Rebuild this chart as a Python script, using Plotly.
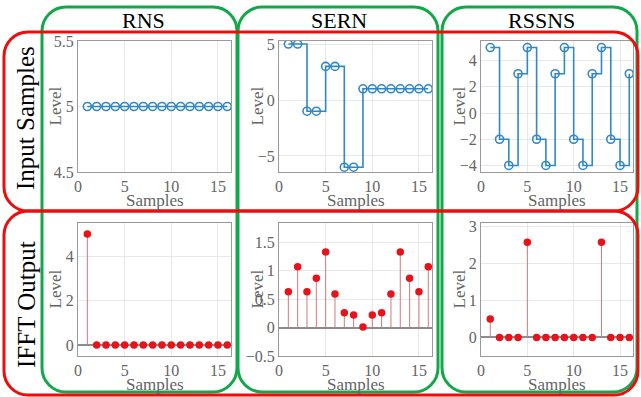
import plotly.graph_objects as go

W, H = 641, 397

samples = [1, 2, 3, 4, 5, 6, 7, 8, 9, 10, 11, 12, 13, 14, 15, 16]

rns_in = [5, 5, 5, 5, 5, 5, 5, 5, 5, 5, 5, 5, 5, 5, 5, 5]
sern_in = [5, 5, -1, -1, 3, 3, -6, -6, 1, 1, 1, 1, 1, 1, 1, 1]
rssns_in = [5, -2, -4, 3, 5, -2, -4, 3, 5, -2, -4, 3, 5, -2, -4, 3]

rns_out = [5, 0, 0, 0, 0, 0, 0, 0, 0, 0, 0, 0, 0, 0, 0, 0]
sern_out = [0.63, 1.07, 0.63, 0.87, 1.33, 0.59, 0.26, 0.22, 0.01, 0.22, 0.26, 0.59, 1.33, 0.87, 0.63, 1.07]
rssns_out = [0.5, 0, 0, 0, 2.57, 0, 0, 0, 0, 0, 0, 0, 2.57, 0, 0, 0]

col_titles = ["RNS", "SERN", "RSSNS"]
row_titles = ["Input Samples", "IFFT Output"]
x_ticks = [0, 5, 10, 15]
y_ticks = [
    [4.5, 5, 5.5], [-5, 0, 5], [-4, -2, 0, 2, 4],
    [0, 2, 4], [-0.5, 0, 0.5, 1, 1.5], [0, 1, 2, 3],
]
y_ranges = [
    [4.5, 5.5], [-6.43, 5.27], [-4.5, 5.5],
    [-0.5, 5.5], [-0.5, 1.84], [-0.5, 3.09],
]
x_range = [0, 16.4]

FONT = "Liberation Serif, Times New Roman, serif"
BLUE = "#3088c6"
RED = "#e8121a"
STEM = "#cf7a7a"
GRAY_TXT = "#646464"
AXIS = "#9a9a9a"
GRID = "#e8e8e8"

# pixel layout of plot areas
cols_px = [(78, 231), (279, 432), (481, 633)]
rows_px = [(41, 172), (223, 356)]

def px(x):
    return x / W

def py(y):
    return 1 - y / H

fig = go.Figure()

inputs = [rns_in, sern_in, rssns_in]
outputs = [rns_out, sern_out, rssns_out]

idx = 0
for r in range(2):
    for c in range(3):
        idx += 1
        xa = "x" if idx == 1 else f"x{idx}"
        ya = "y" if idx == 1 else f"y{idx}"
        if r == 0:
            data = inputs[c]
            fig.add_trace(go.Scatter(
                x=samples, y=data, xaxis=xa, yaxis=ya, mode="lines+markers",
                line=dict(color=BLUE, width=1.6, shape="hv" if c > 0 else "linear"),
                marker=dict(symbol="circle-open", size=8, color=BLUE, line=dict(width=1.6)),
                showlegend=False, hoverinfo="skip"))
        else:
            data = outputs[c]
            sx, sy = [], []
            for xv, yv in zip(samples, data):
                sx += [xv, xv, None]
                sy += [0, yv, None]
            fig.add_trace(go.Scatter(
                x=sx, y=sy, xaxis=xa, yaxis=ya, mode="lines",
                line=dict(color=STEM, width=1), showlegend=False, hoverinfo="skip"))
            fig.add_trace(go.Scatter(
                x=samples, y=data, xaxis=xa, yaxis=ya, mode="markers",
                marker=dict(symbol="circle", size=7.5, color=RED),
                showlegend=False, hoverinfo="skip"))
        x0, x1 = cols_px[c]
        y0, y1 = rows_px[r]
        axkey = "xaxis" if idx == 1 else f"xaxis{idx}"
        aykey = "yaxis" if idx == 1 else f"yaxis{idx}"
        fig.update_layout(**{
            axkey: dict(domain=[px(x0), px(x1)], anchor=ya, range=x_range, automargin=False,
                        tickvals=x_ticks, showgrid=True, gridcolor=GRID, gridwidth=1,
                        zeroline=False, showline=True, linecolor=AXIS, linewidth=1,
                        mirror=True, ticks="", tickfont=dict(family=FONT, size=16, color=GRAY_TXT)),
            aykey: dict(domain=[py(y1), py(y0)], anchor=xa, range=y_ranges[idx - 1], automargin=False,
                        tickvals=y_ticks[idx - 1], showgrid=True, gridcolor=GRID, gridwidth=1,
                        zeroline=(r == 1), zerolinecolor="#8c8c8c", zerolinewidth=1.5,
                        showline=True, linecolor=AXIS, linewidth=1,
                        mirror=True, ticks="", tickfont=dict(family=FONT, size=16, color=GRAY_TXT)),
        })

annotations = []
# axis titles
level_x = [55, 257, 459]
samples_y = [200, 384]
for r in range(2):
    for c in range(3):
        x0, x1 = cols_px[c]
        y0, y1 = rows_px[r]
        annotations.append(dict(text="Samples", x=px((x0 + x1) / 2), y=py(samples_y[r]),
                                xref="paper", yref="paper", showarrow=False,
                                xanchor="center", yanchor="middle",
                                font=dict(family=FONT, size=17, color=GRAY_TXT)))
        annotations.append(dict(text="Level", x=px(level_x[c]), y=py((y0 + y1) / 2),
                                xref="paper", yref="paper", showarrow=False, textangle=-90,
                                xanchor="center", yanchor="middle",
                                font=dict(family=FONT, size=17, color=GRAY_TXT)))
title_x = [143, 339, 541]
for c in range(3):
    annotations.append(dict(text=col_titles[c], x=px(title_x[c]), y=py(21),
                            xref="paper", yref="paper", showarrow=False,
                            xanchor="center", yanchor="middle",
                            font=dict(family=FONT, size=22, color="black")))
row_title_y = [118, 305]
for r in range(2):
    annotations.append(dict(text=row_titles[r], x=px(26), y=py(row_title_y[r]),
                            xref="paper", yref="paper", showarrow=False, textangle=-90,
                            xanchor="center", yanchor="middle",
                            font=dict(family=FONT, size=25, color="black")))

def rounded_rect(l, t, r_, b, rad):
    k = 0.55
    def P(x, y):
        return f"{px(x):.5f},{py(y):.5f}"
    path = (
        f"M {P(l + rad, t)} L {P(r_ - rad, t)} "
        f"C {P(r_ - rad + k * rad, t)} {P(r_, t + rad - k * rad)} {P(r_, t + rad)} "
        f"L {P(r_, b - rad)} "
        f"C {P(r_, b - rad + k * rad)} {P(r_ - rad + k * rad, b)} {P(r_ - rad, b)} "
        f"L {P(l + rad, b)} "
        f"C {P(l + rad - k * rad, b)} {P(l, b - rad + k * rad)} {P(l, b - rad)} "
        f"L {P(l, t + rad)} "
        f"C {P(l, t + rad - k * rad)} {P(l + rad - k * rad, t)} {P(l + rad, t)} Z"
    )
    return path

shapes = []
green_boxes = [(42, 7, 237, 392), (238, 7, 438, 392), (442, 7, 637, 392)]
for (l, t, r_, b) in green_boxes:
    shapes.append(dict(type="path", path=rounded_rect(l, t, r_, b, 24), xref="paper", yref="paper",
                       line=dict(color="#12a84a", width=3), layer="above"))
red_boxes = [(4, 32, 638, 211), (4, 211, 638, 395)]
for (l, t, r_, b) in red_boxes:
    shapes.append(dict(type="path", path=rounded_rect(l, t, r_, b, 24), xref="paper", yref="paper",
                       line=dict(color="#ee0c0c", width=3), layer="above"))

fig.update_layout(template="none", width=W, height=H, margin=dict(l=0, r=0, t=0, b=0, pad=0),
                  paper_bgcolor="white", plot_bgcolor="white",
                  annotations=annotations, shapes=shapes)

fig.write_html("out.html")
